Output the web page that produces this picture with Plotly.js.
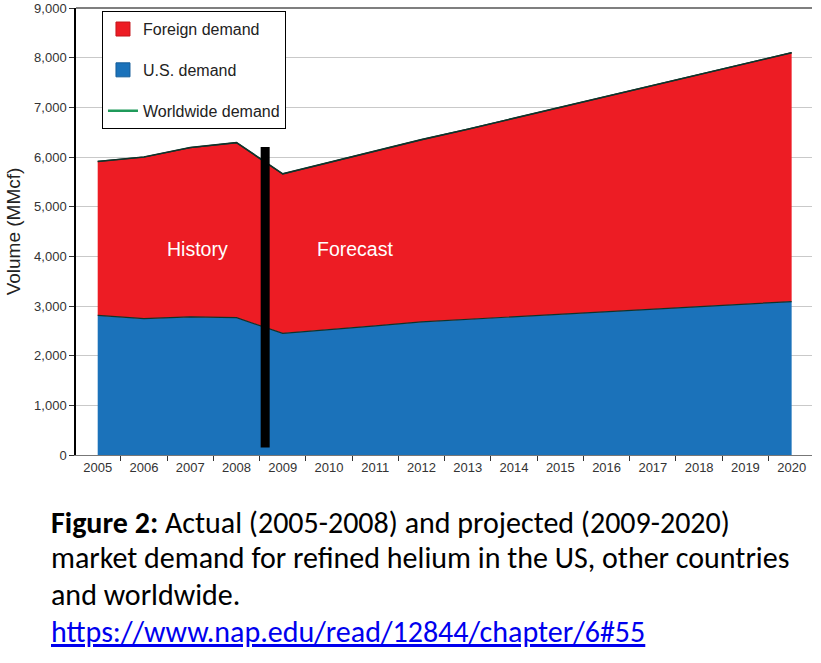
<!DOCTYPE html>
<html>
<head>
<meta charset="utf-8">
<script src="https://cdn.plot.ly/plotly-3.0.1.min.js"></script>
<style>
  html, body { margin: 0; padding: 0; background: #fff; }
  #chart { width: 821px; height: 663px; }
</style>
</head>
<body>
<div id="chart"></div>
<script>
// Helium demand, MMcf
const years = [2005, 2006, 2007, 2008, 2009, 2010, 2011, 2012, 2013, 2014, 2015, 2016, 2017, 2018, 2019, 2020];
const usDemand = [2810, 2745, 2780, 2765, 2450, 2520, 2600, 2680, 2730, 2780, 2840, 2890, 2940, 2990, 3040, 3090];
const foreignDemand = [3100, 3255, 3410, 3525, 3210, 3370, 3520, 3670, 3830, 4000, 4150, 4320, 4490, 4660, 4830, 5010];
const worldDemand = [5910, 6000, 6190, 6290, 5660, 5890, 6120, 6350, 6560, 6780, 6990, 7210, 7430, 7650, 7870, 8100];

// divider between history and forecast
const dividerYear = 2008.62;
const dividerSpan = [150, 6200];

const yTicks = [0, 1000, 2000, 3000, 4000, 5000, 6000, 7000, 8000, 9000];

const captionLines = [
  '<b>Figure 2:</b> Actual (2005-2008) and projected (2009-2020)',
  'market demand for refined helium in the US, other countries',
  'and worldwide.',
  '<a href="https://www.nap.edu/read/12844/chapter/6#55" style="color:#0000ee"><u>https://www.nap.edu/read/12844/chapter/6#55</u></a>'
];

const RED = '#ED1C24';
const BLUE = '#1B72BA';
const GREEN = '#1f9a5a';
const OUTLINE = '#10332a';

const traces = [
  {
    x: years, y: usDemand,
    name: 'U.S. demand',
    type: 'scatter', mode: 'lines',
    stackgroup: 'demand',
    fillcolor: BLUE,
    line: { color: OUTLINE, width: 1.2 },
    showlegend: false,
    hoverinfo: 'x+y+name'
  },
  {
    x: years, y: foreignDemand,
    name: 'Foreign demand',
    type: 'scatter', mode: 'lines',
    stackgroup: 'demand',
    fillcolor: RED,
    line: { color: OUTLINE, width: 1.2 },
    showlegend: false,
    hoverinfo: 'x+y+name'
  },
  {
    x: years, y: worldDemand,
    name: 'Worldwide demand',
    type: 'scatter', mode: 'lines',
    line: { color: OUTLINE, width: 1.6 },
    showlegend: false
  },
  {
    x: [dividerYear, dividerYear], y: dividerSpan,
    type: 'scatter', mode: 'lines',
    line: { color: '#000', width: 9 },
    showlegend: false, hoverinfo: 'skip'
  },
  // legend keys
  {
    x: [null], y: [null], name: 'Foreign demand',
    type: 'scatter', mode: 'markers',
    marker: { symbol: 'square', size: 14, color: RED, line: { color: '#c4161c', width: 1 } },
    legendgroup: 'foreign', legendrank: 1
  },
  {
    x: [null], y: [null], name: 'U.S. demand',
    type: 'scatter', mode: 'markers',
    marker: { symbol: 'square', size: 14, color: BLUE, line: { color: '#155d99', width: 1 } },
    legendgroup: 'us', legendrank: 2
  },
  {
    x: [null], y: [null], name: 'Worldwide demand',
    type: 'scatter', mode: 'lines',
    line: { color: GREEN, width: 2.5 },
    legendgroup: 'world', legendrank: 3
  }
];

const textFont = { family: 'Liberation Sans, Arial, sans-serif', size: 13, color: '#333' };
const captionFont = { family: 'Carlito, Liberation Sans Narrow, DejaVu Sans Condensed, sans-serif', size: 30, color: '#000' };

// caption line centres, paper units (plot area is 447px tall)
const captionY = [-0.150, -0.230, -0.313, -0.394];

const annotations = [
  { x: 2007.15, y: 4140, xref: 'x', yref: 'y', text: 'History', showarrow: false,
    font: { family: 'Liberation Sans, Arial, sans-serif', size: 19.5, color: '#fff' } },
  { x: 2010.56, y: 4140, xref: 'x', yref: 'y', text: 'Forecast', showarrow: false,
    font: { family: 'Liberation Sans, Arial, sans-serif', size: 19.5, color: '#fff' } }
].concat(captionLines.map((t, i) => ({
  x: -0.0367, y: captionY[i], xref: 'paper', yref: 'paper',
  xanchor: 'left', yanchor: 'middle', align: 'left',
  text: t, showarrow: false,
  font: Object.assign({}, captionFont, i === 3 ? { color: '#0000ee' } : {})
})));

const layout = {
  width: 821,
  height: 663,
  margin: { l: 76, r: 9, t: 8, b: 208 },
  paper_bgcolor: '#fff',
  plot_bgcolor: '#fff',
  font: textFont,
  showlegend: true,
  legend: {
    x: 0.0353, y: 0.993, xanchor: 'left', yanchor: 'top',
    bgcolor: '#fff', bordercolor: '#000', borderwidth: 1,
    traceorder: 'grouped', tracegroupgap: 17,
    itemwidth: 30,
    font: { family: 'Liberation Sans, Arial, sans-serif', size: 16, color: '#222' }
  },
  xaxis: {
    range: [2004.531, 2020.44],
    tickvals: years,
    ticks: '',
    showgrid: false,
    zeroline: false,
    showline: true, linecolor: '#777', linewidth: 1.2,
    tickfont: { size: 13, color: '#333' },
    minor: { tick0: 2004.5, dtick: 1, ticks: 'outside', ticklen: 5, tickcolor: '#333', showgrid: false }
  },
  yaxis: {
    range: [0, 9000],
    tickvals: yTicks,
    tickformat: ',d',
    ticks: 'outside', ticklen: 5, tickcolor: '#333',
    ticklabeloverflow: 'allow',
    showgrid: true, gridcolor: '#c9c9c9', gridwidth: 1,
    zeroline: false,
    showline: true, linecolor: '#000', linewidth: 1.5,
    tickfont: { size: 13, color: '#333' },
    title: { text: 'Volume (MMcf)', standoff: 8, font: { size: 19, color: '#222' } },
    automargin: false
  },
  shapes: [
    { type: 'line', xref: 'paper', yref: 'paper', x0: 0, x1: 1, y0: 1, y1: 1,
      line: { color: '#555', width: 1.5 } }
  ],
  annotations: annotations
};

Plotly.newPlot('chart', traces, layout, { displayModeBar: false });
</script>
</body>
</html>
